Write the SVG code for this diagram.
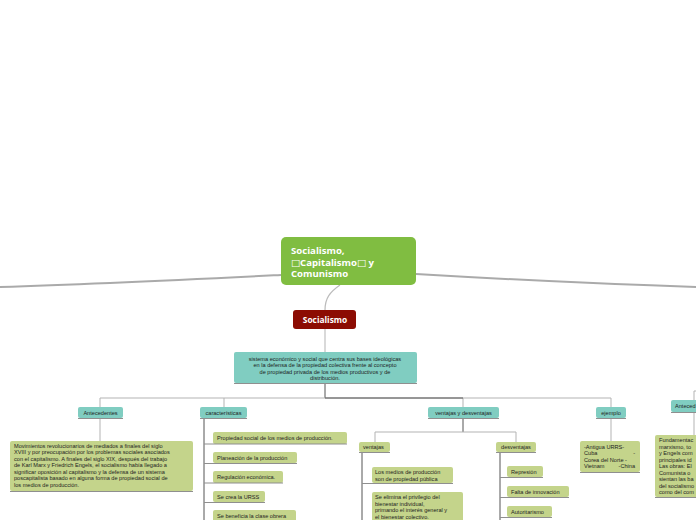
<svg xmlns="http://www.w3.org/2000/svg" width="696" height="520" viewBox="0 0 696 520">
<style>
.t{font-family:"Liberation Sans",Arial,sans-serif;font-size:5.6px;fill:#1e1e1e}
.c{text-anchor:middle}
.e{text-anchor:end}
.teal{fill:#80cdc1}
.olive{fill:#c4d48b}
.l{fill:none;stroke:#b3b3b3;stroke-width:1}
.d{fill:none;stroke:#555;stroke-width:1}
.u{fill:none;stroke:#8f8f8f;stroke-width:1}
.big{font-family:"Open Sans","DejaVu Sans",sans-serif;font-weight:bold;fill:#fff}
</style>
<rect width="696" height="520" fill="#fff"/>
<g id="connectors">
<path d="M281,275 C200,279 100,284 0,287" fill="none" stroke="#aaa" stroke-width="2"/>
<path d="M416,274 C500,279 600,284 696,287" fill="none" stroke="#aaa" stroke-width="2"/>
<path d="M340,285 C330,292 325,298 325,310" fill="none" stroke="#bbb" stroke-width="1.2"/>
<path class="l" d="M325,329 V352"/>
<path class="d" d="M325,383 V398"/>
<path class="l" d="M100,398 H611 M100,398 V407 M224,398 V407 M463,398 V407 M611,398 V407"/>
<path class="d" d="M325,398 H463"/>
<path class="l" d="M100,418 V441"/>
<path class="d" d="M204,418 V520"/>
<path class="d" d="M463,418 V432"/>
<path class="l" d="M375,432 H516 M375,432 V442 M516,432 V442"/>
<path class="d" d="M362,452 V520"/>
<path class="d" d="M500,452 V520"/>
<path class="l" d="M611,418 V441"/>
<path class="l" d="M696,391 H694 V400 M694,412 V435"/>
</g>
<g id="root">
<rect x="281" y="237" width="135" height="48" rx="5" fill="#80bd41"/>
<text class="big" font-size="9.6" x="291" y="254">Socialismo,</text>
<text class="big" font-size="9.6" x="291" y="265.5">□Capitalismo□ y</text>
<text class="big" font-size="9.6" x="291" y="277">Comunismo</text>
</g>
<g id="socialismo">
<rect x="293" y="310" width="63" height="19" rx="3" fill="#8c0c03"/>
<text class="big c" font-size="8.4" x="325" y="323">Socialismo</text>
</g>
<g id="definicion">
<rect class="teal" x="234" y="352" width="183" height="31" rx="2"/>
<path class="u" d="M234,383.5 H417"/>
<text class="t c" x="325" y="360.5">sistema económico y social que centra sus bases ideológicas</text>
<text class="t c" x="325" y="367">en la defensa de la propiedad colectiva frente al concepto</text>
<text class="t c" x="325" y="373.5">de propiedad privada de los medios productivos y de</text>
<text class="t c" x="325" y="380">distribución.</text>
</g>
<g id="antecedentes">
<rect class="teal" x="78" y="407" width="45" height="11" rx="2"/>
<path class="u" d="M78,418.5 H123"/>
<text class="t c" x="100.5" y="414.5">Antecedentes</text>
</g>
<g id="antecedentes-texto">
<rect class="olive" x="10" y="441" width="183" height="50" rx="2"/>
<path class="u" d="M10,491.5 H193"/>
<text class="t" x="14" y="447.5">Movimientos revolucionarios de mediados a finales del siglo</text>
<text class="t" x="14" y="454">XVIII y por preocupación por los problemas sociales asociados</text>
<text class="t" x="14" y="460.5">con el capitalismo. A finales del siglo XIX, después del trabajo</text>
<text class="t" x="14" y="467">de Karl Marx y Friedrich Engels, el socialismo había llegado a</text>
<text class="t" x="14" y="473.5">significar oposición al capitalismo y la defensa de un sistema</text>
<text class="t" x="14" y="480">poscapitalista basado en alguna forma de propiedad social de</text>
<text class="t" x="14" y="486.5">los medios de producción.</text>
</g>
<g id="caracteristicas">
<rect class="teal" x="200" y="407" width="47" height="11" rx="2"/>
<path class="u" d="M200,418.5 H247"/>
<text class="t c" x="223.5" y="414.5">características</text>
</g>
<g id="c1">
<rect class="olive" x="213" y="432" width="134" height="12" rx="2"/>
<path class="u" d="M204,444 H347"/>
<text class="t" x="217" y="440">Propiedad social de los medios de producción.</text>
</g>
<g id="c2">
<rect class="olive" x="213" y="452" width="84" height="11" rx="2"/>
<path class="u" d="M204,463.5 H297"/>
<text class="t" x="217" y="459.5">Planeación de la producción</text>
</g>
<g id="c3">
<rect class="olive" x="213" y="471" width="70" height="12" rx="2"/>
<path class="u" d="M204,483 H283"/>
<text class="t" x="217" y="479">Regulación económica.</text>
</g>
<g id="c4">
<rect class="olive" x="213" y="491" width="52" height="11" rx="2"/>
<path class="u" d="M204,502.5 H265"/>
<text class="t" x="217" y="498.5">Se crea la URSS</text>
</g>
<g id="c5">
<rect class="olive" x="213" y="510" width="83" height="12" rx="2"/>
<text class="t" x="217" y="518">Se beneficia la clase obrera</text>
</g>
<g id="ventajas-desventajas">
<rect class="teal" x="428" y="407" width="71" height="11" rx="2"/>
<path class="u" d="M428,418.5 H499"/>
<text class="t c" x="463.5" y="414.5">ventajas y desventajas</text>
</g>
<g id="ventajas">
<rect class="olive" x="359" y="442" width="31" height="10" rx="2"/>
<path class="u" d="M359,452.5 H390"/>
<text class="t" x="363" y="449">ventajas</text>
</g>
<g id="v1">
<rect class="olive" x="372" y="467" width="81" height="16" rx="2"/>
<path class="u" d="M362,483.5 H453"/>
<text class="t" x="375" y="474">Los medios de producción</text>
<text class="t" x="375" y="480.5">son de propiedad pública</text>
</g>
<g id="v2">
<rect class="olive" x="372" y="492" width="91" height="34" rx="2"/>
<text class="t" x="375" y="499">Se elimina el privilegio del</text>
<text class="t" x="375" y="505.5">bienestar individual,</text>
<text class="t" x="375" y="512">primando el interés general y</text>
<text class="t" x="375" y="518.5">el bienestar colectivo.</text>
</g>
<g id="desventajas">
<rect class="olive" x="496" y="442" width="40" height="10" rx="2"/>
<path class="u" d="M496,452.5 H536"/>
<text class="t c" x="516" y="449">desventajas</text>
</g>
<g id="d1">
<rect class="olive" x="507" y="466" width="36" height="11" rx="2"/>
<path class="u" d="M500,477.5 H543"/>
<text class="t" x="511" y="473.5">Represión</text>
</g>
<g id="d2">
<rect class="olive" x="507" y="486" width="62" height="11" rx="2"/>
<path class="u" d="M500,497.5 H569"/>
<text class="t" x="511" y="493.5">Falta de innovación</text>
</g>
<g id="d3">
<rect class="olive" x="507" y="506" width="45" height="11" rx="2"/>
<path class="u" d="M500,517.5 H552"/>
<text class="t" x="511" y="513.5">Autoritarismo</text>
</g>
<g id="ejemplo">
<rect class="teal" x="596" y="407" width="30" height="11" rx="2"/>
<path class="u" d="M596,418.5 H626"/>
<text class="t c" x="611" y="414.5">ejemplo</text>
</g>
<g id="ejemplo-texto">
<rect class="olive" x="580" y="441" width="60" height="31" rx="2"/>
<path class="u" d="M580,472.5 H640"/>
<text class="t" x="584" y="448.5">-Antigua URRS-</text>
<text class="t" x="584" y="455">Cuba</text>
<text class="t e" x="635" y="455">-</text>
<text class="t" x="584" y="461.5">Corea del Norte -</text>
<text class="t" x="584" y="468">Vietnam</text>
<text class="t e" x="635" y="468">-China</text>
</g>
<g id="antecedentes-2">
<rect class="teal" x="671" y="400" width="30" height="12" rx="2"/>
<path class="u" d="M671,412.5 H696"/>
<text class="t" x="675" y="408">Anteced</text>
</g>
<g id="antecedentes-2-texto">
<rect class="olive" x="655" y="435" width="46" height="62" rx="2"/>
<path class="u" d="M655,497.5 H696"/>
<text class="t" x="659" y="442">Fundamentac</text>
<text class="t" x="659" y="448.5">marxismo, to</text>
<text class="t" x="659" y="455">y Engels com</text>
<text class="t" x="659" y="461.5">principales id</text>
<text class="t" x="659" y="468">Las obras: El</text>
<text class="t" x="659" y="474.5">Comunista o</text>
<text class="t" x="659" y="481">sientan las ba</text>
<text class="t" x="659" y="487.5">del socialismo</text>
<text class="t" x="659" y="494">como del com</text>
</g>
</svg>
